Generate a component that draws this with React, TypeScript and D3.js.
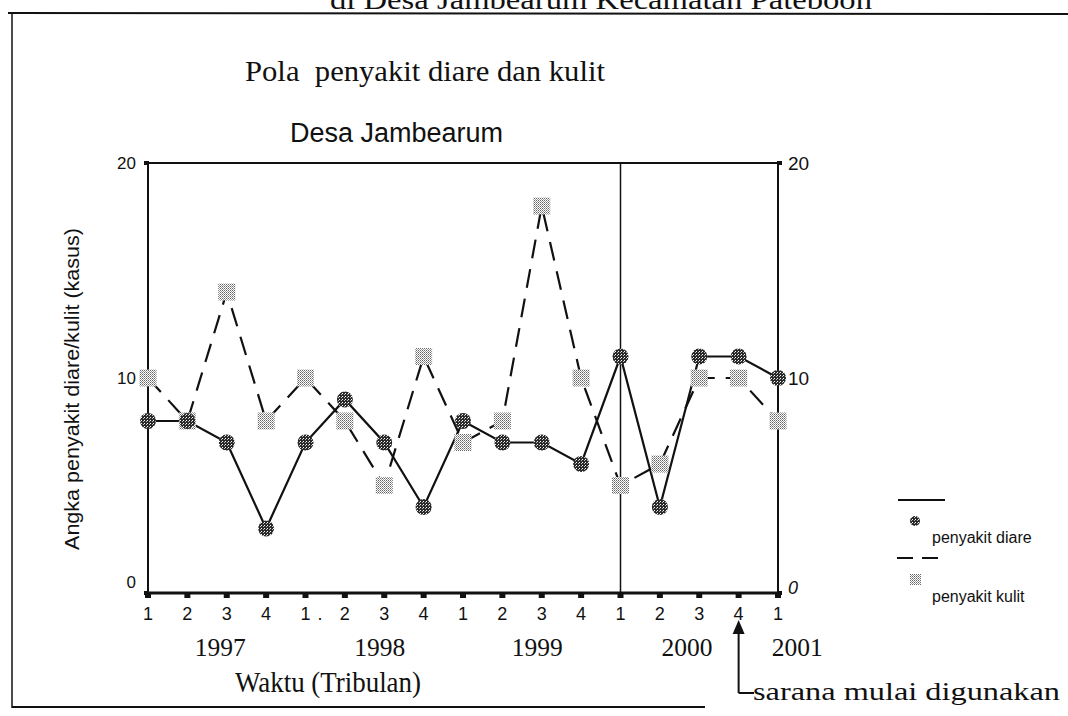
import React from "react";
import * as d3 from "d3";

const quarters = ["1", "2", "3", "4", "1", "2", "3", "4", "1", "2", "3", "4", "1", "2", "3", "4", "1"];
const years = ["1997", "1998", "1999", "2000", "2001"];
const yearPos = [1.85, 5.9, 9.9, 13.7, 16.5];
const diare = [8, 8, 7, 3, 7, 9, 7, 4, 8, 7, 7, 6, 11, 4, 11, 11, 10];
const kulit = [10, 8, 14, 8, 10, 8, 5, 11, 7, 8, 18, 10, 5, 6, 10, 10, 8];
const yTicks = [0, 10, 20];
const interventionIndex = 12;
const arrowIndex = 15;

const W = 1068;
const H = 716;
const SERIF = "'Liberation Serif', 'Times New Roman', serif";
const SANS = "'Liberation Sans', Arial, sans-serif";

export default function App() {
  const idx = quarters.map((_, i) => i);
  const x = d3.scalePoint<number>().domain(idx).range([148, 778]);
  const y = d3.scaleLinear().domain([0, 20]).range([593, 163]);
  const line = d3
    .line<number>()
    .x((_, i) => x(i) as number)
    .y((d) => y(d));
  const x0 = x(0) as number;
  const x1 = x(16) as number;
  const xv = x(interventionIndex) as number;
  const xa = x(arrowIndex) as number;

  return (
    <svg width={W} height={H} style={{ position: "absolute", left: 0, top: 0, background: "#fff" }}>
      <defs>
        <pattern id="pd" width="3" height="3" patternUnits="userSpaceOnUse">
          <rect width="3" height="3" fill="#2a2a2a" />
          <rect x="0" y="0" width="1" height="1" fill="#fff" />
          <rect x="2" y="1" width="1" height="1" fill="#bbb" />
        </pattern>
        <pattern id="pk" width="2" height="2" patternUnits="userSpaceOnUse">
          <rect width="2" height="2" fill="#fff" />
          <rect x="0" y="0" width="1" height="1" fill="#666" />
          <rect x="1" y="1" width="1" height="1" fill="#999" />
        </pattern>
      </defs>
      <rect width={W} height={H} fill="#fff" />

      {/* heading cut off at the top edge, as in the scan */}
      <text x={330} y={9} textLength={542} lengthAdjust="spacingAndGlyphs" fontFamily={SERIF} fontSize={27} fill="#111">
        di Desa Jambearum Kecamatan Pateboon
      </text>
      {/* page frame */}
      <line x1={8} x2={1068} y1={13} y2={14} stroke="#111" strokeWidth={2} />
      <line x1={12} x2={12} y1={13} y2={708} stroke="#111" strokeWidth={1.5} />
      <line x1={12} x2={705} y1={707} y2={707} stroke="#111" strokeWidth={2} />

      {/* titles */}
      <text x={245} y={81} textLength={360} lengthAdjust="spacingAndGlyphs" fontFamily={SERIF} fontSize={30} fill="#111" style={{ whiteSpace: "pre" }}>
        {"Pola  penyakit diare dan kulit"}
      </text>
      <text x={290} y={142} fontFamily={SANS} fontSize={27} fill="#111">
        Desa Jambearum
      </text>

      {/* y label */}
      <text
        transform={`translate(79,389) rotate(-90)`}
        textAnchor="middle"
        textLength={322}
        lengthAdjust="spacingAndGlyphs"
        fontFamily={SANS}
        fontSize={20}
        fill="#111"
      >
        Angka penyakit diare/kulit (kasus)
      </text>

      {/* plot frame */}
      <line x1={x0} x2={x1} y1={y(20)} y2={y(20)} stroke="#111" strokeWidth={2} />
      <line x1={x0} x2={x1} y1={y(0)} y2={y(0)} stroke="#111" strokeWidth={3} />
      <line x1={x0} x2={x0} y1={y(20)} y2={y(0)} stroke="#111" strokeWidth={2} />
      <line x1={x1} x2={x1} y1={y(20)} y2={y(0)} stroke="#111" strokeWidth={2} />
      <line x1={xv} x2={xv} y1={y(20)} y2={y(0)} stroke="#111" strokeWidth={1.5} />

      {/* y ticks */}
      {yTicks.map((t) => (
        <g key={t}>
          <rect x={x0 - 4} y={y(t) - 2} width={5} height={4} fill="#111" />
          <rect x={x1 - 1} y={y(t) - 2} width={5} height={4} fill="#111" />
          <text
            x={x0 - 12}
            y={t === 0 ? y(t) - 5 : y(t) + 6}
            textAnchor="end"
            fontFamily={SANS}
            fontSize={17}
            fill="#111"
          >
            {t}
          </text>
          <text
            x={x1 + 10}
            y={t === 0 ? y(t) + 1 : y(t) + 7}
            fontFamily={SANS}
            fontSize={t === 0 ? 18 : 19}
            fontStyle={t === 0 ? "italic" : "normal"}
            fill="#111"
          >
            {t}
          </text>
        </g>
      ))}

      {/* x ticks */}
      {quarters.map((q, i) => (
        <g key={i}>
          <rect x={(x(i) as number) - 3} y={y(0)} width={6} height={5} fill="#111" />
          <text x={x(i) as number} y={620} textAnchor="middle" fontFamily={SANS} fontSize={18} fill="#111">
            {q}
          </text>
        </g>
      ))}
      <text x={(x(4) as number) + 12} y={620} fontFamily={SANS} fontSize={18} fill="#111">.</text>
      {years.map((yr, i) => {
        const p = yearPos[i];
        const px = x0 + (p / 16) * (x1 - x0);
        return (
          <text key={yr} x={px - 26} y={656} textLength={51} lengthAdjust="spacingAndGlyphs" fontFamily={SERIF} fontSize={25} fill="#111">
            {yr}
          </text>
        );
      })}
      <text x={235} y={692} textLength={186} lengthAdjust="spacingAndGlyphs" fontFamily={SERIF} fontSize={30} fill="#111">
        Waktu (Tribulan)
      </text>

      {/* arrow annotation */}
      <line x1={xa} x2={xa} y1={630} y2={693} stroke="#111" strokeWidth={2} />
      <path d={`M${xa},620 L${xa - 6},634 L${xa + 6},634 Z`} fill="#111" />
      <line x1={xa} x2={754} y1={693} y2={693} stroke="#111" strokeWidth={2} />
      <text x={753} y={700} textLength={307} lengthAdjust="spacingAndGlyphs" fontFamily={SERIF} fontSize={26} fill="#111">
        sarana mulai digunakan
      </text>

      {/* series lines */}
      <path d={line(kulit) ?? ""} fill="none" stroke="#111" strokeWidth={2.2} strokeDasharray="19 11" />
      <path d={line(diare) ?? ""} fill="none" stroke="#111" strokeWidth={2.2} />

      {/* markers */}
      {kulit.map((v, i) => (
        <rect key={"k" + i} x={(x(i) as number) - 8.5} y={y(v) - 8.5} width={17} height={17} fill="url(#pk)" />
      ))}
      {diare.map((v, i) => (
        <circle key={"d" + i} cx={x(i) as number} cy={y(v)} r={8} fill="url(#pd)" />
      ))}

      {/* legend */}
      <line x1={898} x2={945} y1={500} y2={500} stroke="#111" strokeWidth={2} />
      <circle cx={915} cy={521} r={5} fill="url(#pd)" />
      <text x={932} y={543} fontFamily={SANS} fontSize={16} fill="#111">penyakit diare</text>
      <line x1={897} x2={945} y1={558} y2={558} stroke="#111" strokeWidth={2} strokeDasharray="16 9" />
      <rect x={910} y={574} width={11} height={11} fill="url(#pk)" />
      <text x={932} y={602} fontFamily={SANS} fontSize={16} fill="#111">penyakit kulit</text>
    </svg>
  );
}
